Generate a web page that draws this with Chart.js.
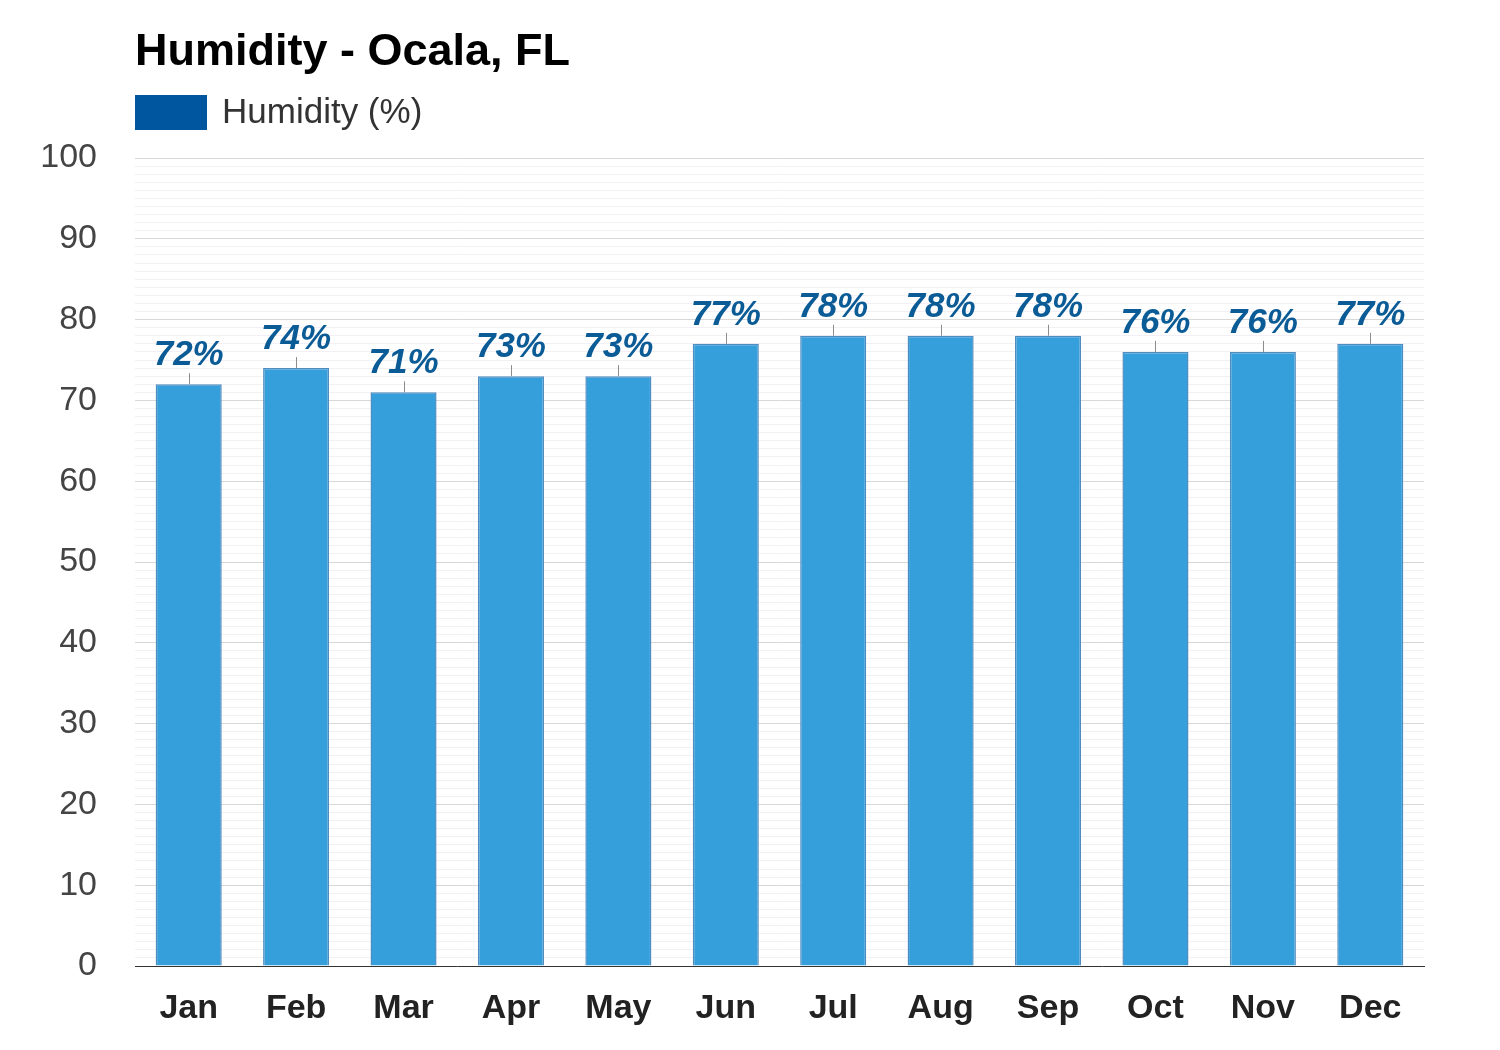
<!DOCTYPE html>
<html>
<head>
<meta charset="utf-8">
<script src="https://cdn.jsdelivr.net/npm/chart.js@4/dist/chart.umd.min.js"></script>
<style>
  html, body { margin: 0; padding: 0; background: #ffffff; }
  #wrap { width: 1500px; height: 1050px; position: relative; }
</style>
</head>
<body>
<div id="wrap"><canvas id="c" width="1500" height="1050"></canvas></div>
<script>
const chartTitle = 'Humidity - Ocala, FL';
const seriesLabel = 'Humidity (%)';
const months = ['Jan', 'Feb', 'Mar', 'Apr', 'May', 'Jun', 'Jul', 'Aug', 'Sep', 'Oct', 'Nov', 'Dec'];
const humidity = [72, 74, 71, 73, 73, 77, 78, 78, 78, 76, 76, 77];
const yMin = 0;
const yMax = 100;

const FONT = '"Liberation Sans", Arial, Helvetica, sans-serif';

const headerPlugin = {
  id: 'header',
  afterDraw(chart) {
    const ctx = chart.ctx;
    const left = chart.chartArea.left;
    ctx.save();
    ctx.fillStyle = '#000000';
    ctx.font = 'bold 45px ' + FONT;
    ctx.textAlign = 'left';
    ctx.textBaseline = 'alphabetic';
    ctx.fillText(chartTitle, left, 65);
    ctx.fillStyle = '#0057a0';
    ctx.fillRect(left, 95, 72, 35);
    ctx.fillStyle = '#333333';
    ctx.font = '35px ' + FONT;
    ctx.textBaseline = 'middle';
    ctx.fillText(seriesLabel, left + 87, 113);
    ctx.restore();
  }
};

const valueLabelPlugin = {
  id: 'valueLabels',
  afterDatasetsDraw(chart) {
    const ctx = chart.ctx;
    const meta = chart.getDatasetMeta(0);
    ctx.save();
    meta.data.forEach((bar, i) => {
      const x = bar.x, y = bar.y;
      ctx.strokeStyle = '#8c8c8c';
      ctx.lineWidth = 1;
      ctx.beginPath();
      ctx.moveTo(Math.round(x) + 0.5, y);
      ctx.lineTo(Math.round(x) + 0.5, y - 11);
      ctx.stroke();
      ctx.fillStyle = '#0b5c96';
      ctx.font = 'italic bold 35px ' + FONT;
      ctx.textAlign = 'center';
      ctx.textBaseline = 'alphabetic';
      ctx.fillText(chart.data.datasets[0].data[i] + '%', x, y - 19);
    });
    ctx.restore();
  }
};

new Chart(document.getElementById('c'), {
  type: 'bar',
  data: {
    labels: months,
    datasets: [{
      label: seriesLabel,
      data: humidity,
      backgroundColor: '#349fdb',
      borderColor: '#4f8cc0',
      borderWidth: 1.5,
      barPercentage: 0.615,
      categoryPercentage: 1.0
    }]
  },
  options: {
    responsive: false,
    animation: false,
    devicePixelRatio: 1,
    layout: { padding: { left: 0, right: 76, top: 158, bottom: 0 } },
    plugins: {
      legend: { display: false },
      title: { display: false },
      tooltip: { enabled: false }
    },
    scales: {
      x: {
        grid: { display: false, drawTicks: false },
        border: { display: true, color: '#333333', width: 1 },
        ticks: {
          color: '#222222',
          font: { family: FONT, size: 34, weight: 'bold' },
          padding: 22
        },
        afterFit(scale) { scale.height = 84; }
      },
      y: {
        min: yMin,
        max: yMax,
        border: { display: false },
        grid: {
          drawTicks: false,
          color(ctx) {
            const v = ctx.tick && ctx.tick.value;
            return (v % 10 === 0) ? '#d8d8d8' : '#f2f0f5';
          },
          lineWidth: 1
        },
        ticks: {
          stepSize: 1,
          maxTicksLimit: 200,
          autoSkip: false,
          color: '#444444',
          font: { family: FONT, size: 34 },
          padding: 38,
          callback(v) { return (v % 10 === 0) ? String(v) : ''; }
        },
        afterFit(scale) { scale.width = 135; }
      }
    }
  },
  plugins: [headerPlugin, valueLabelPlugin]
});
</script>
</body>
</html>
